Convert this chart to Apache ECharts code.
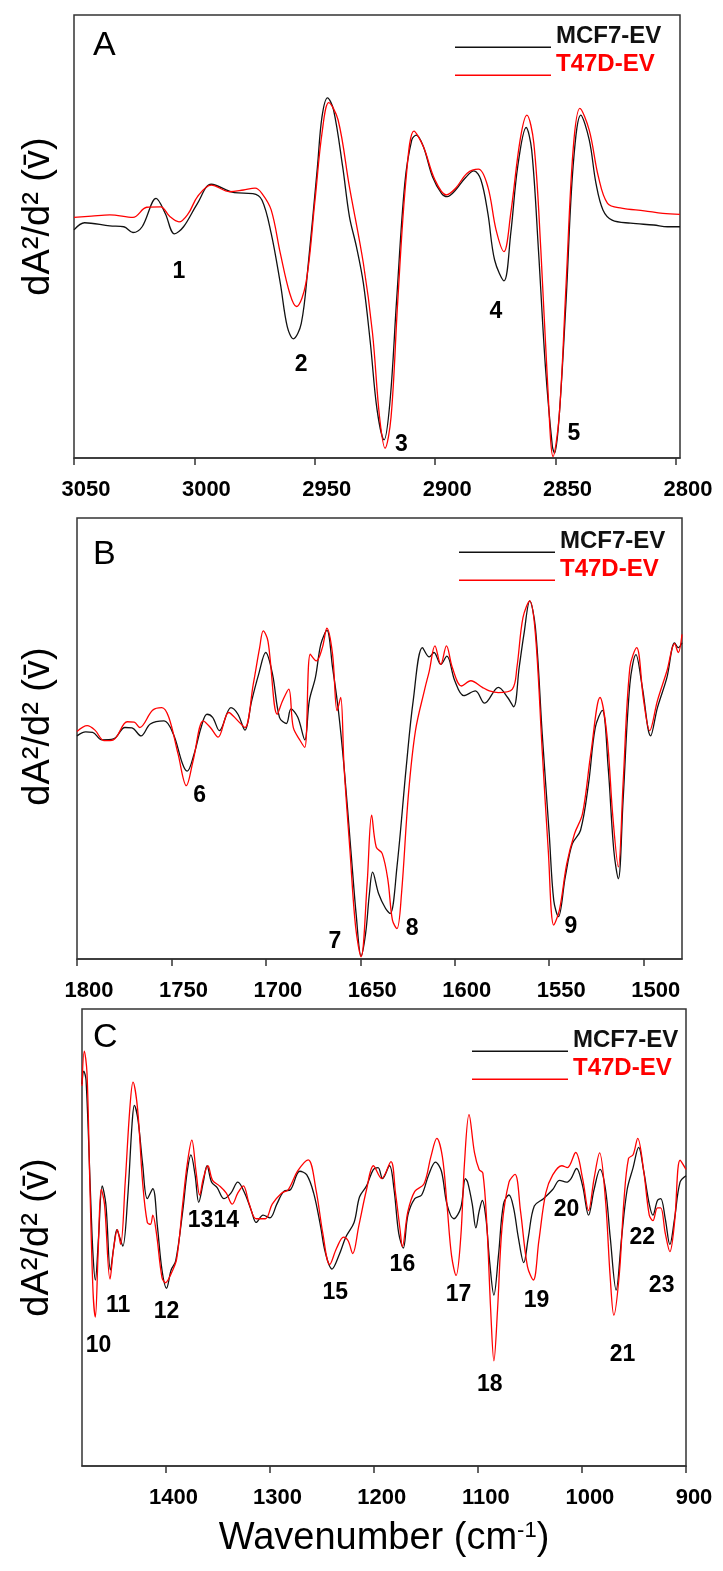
<!DOCTYPE html>
<html>
<head>
<meta charset="utf-8">
<script src="https://cdn.jsdelivr.net/npm/echarts@6/dist/echarts.min.js"></script>
<style>
html,body{margin:0;padding:0;background:#fff;}
#chart{width:723px;height:1571px;}
</style>
</head>
<body>
<div id="chart"></div>
<script>
// ---- Data: [wavenumber (cm-1), second-derivative value (relative units)] ----
const mcf7A = [[3050,51.5],[3045.6,53.1],[3035.1,52.4],[3029.3,52.2],[3025.5,50.9],[3021.7,52.2],[3015.9,58.6],[3012.1,55.2],[3008.3,50.6],[3004.5,52.2],[2998.7,57.5],[2993.0,61.8],[2983.4,59.9],[2975.7,59.7],[2971.9,58.2],[2968.1,50.7],[2964.3,39.4],[2961.4,29.6],[2958.9,26.9],[2955.6,30.4],[2952.8,43.2],[2948.9,65.7],[2947.0,77.0],[2944.7,81.3],[2942.2,78.6],[2938.4,65.7],[2935.6,54.5],[2932.7,47.7],[2929.8,39.4],[2926.9,25.9],[2924.1,10.8],[2921.2,4.1],[2918.7,13.1],[2916.0,35.7],[2912.6,62.0],[2909.7,71.8],[2907.8,72.9],[2904.9,70.3],[2901.1,63.5],[2897.3,59.7],[2895.0,59.0],[2891.5,60.5],[2887.7,63.1],[2883.9,64.8],[2881.0,62.8],[2878.1,55.2],[2875.3,44.7],[2871.4,40.0],[2868.6,50.7],[2865.7,65.8],[2862.2,74.6],[2859.9,69.5],[2857.1,47.0],[2854.2,20.6],[2851.3,2.6],[2850.4,1.1],[2848.5,9.3],[2845.6,35.7],[2842.7,65.8],[2839.5,77.4],[2836.0,71.8],[2833.2,62.0],[2830.3,56.0],[2826.5,53.7],[2818.8,53.0],[2809.2,52.6],[2803.5,52.2],[2798.3,52.2]];
const t47dA = [[3050,54.3],[3042.7,54.6],[3035.1,54.9],[3025.5,54.3],[3019.8,56.6],[3014.0,56.7],[3010.2,54.5],[3006.4,53.3],[3002.5,55.2],[2998.7,59.0],[2993.0,61.6],[2985.3,60.1],[2979.6,60.5],[2974.8,60.9],[2971.9,59.7],[2968.1,56.0],[2964.3,46.2],[2960.4,37.2],[2957.6,34.2],[2953.7,39.4],[2949.9,58.2],[2947.0,73.3],[2944.2,80.2],[2940.3,76.3],[2935.6,61.2],[2929.8,43.9],[2926.0,28.1],[2923.1,9.3],[2920.8,2.2],[2918.3,9.3],[2915.5,35.7],[2912.0,63.5],[2908.8,73.8],[2904.9,70.3],[2900.1,62.8],[2895.4,59.4],[2891.5,60.9],[2886.7,64.3],[2882.0,65.2],[2878.1,61.2],[2874.7,51.5],[2871.4,46.6],[2868.6,55.2],[2864.7,71.8],[2861.9,77.4],[2859.0,71.0],[2856.1,47.0],[2853.3,16.9],[2851.0,0.3],[2848.5,9.3],[2845.6,39.4],[2842.7,69.5],[2839.9,78.9],[2836.0,74.0],[2832.2,63.5],[2828.4,57.5],[2822.6,56.4],[2813.1,55.8],[2805.4,55.2],[2798.3,55.0]];

const mcf7B = [[1800,50.6],[1795.4,51.5],[1791.7,51.4],[1786.8,49.7],[1780.7,49.9],[1774.6,52.5],[1770.9,52.4],[1766.1,50.6],[1761.2,53.3],[1753.9,54.0],[1749.0,51.0],[1744.1,44.2],[1741.7,42.6],[1738.0,46.5],[1734.3,52.5],[1731.2,55.5],[1728.2,54.8],[1724.6,51.8],[1718.5,57.0],[1714.8,55.5],[1711.1,51.9],[1707.5,58.6],[1703.8,64.6],[1700.1,69.5],[1696.5,64.6],[1692.8,54.8],[1689.2,53.4],[1686.7,56.7],[1683.1,54.8],[1679.4,49.7],[1677.0,58.6],[1673.8,63.8],[1670.9,71.4],[1667.7,74.5],[1664.7,66.1],[1661.6,56.3],[1658.6,43.5],[1655.0,24.6],[1652.1,9.6],[1649.6,0.7],[1647.2,5.8],[1645.2,14.8],[1643.5,19.7],[1640.3,14.8],[1636.7,11.5],[1634.2,10.3],[1630.6,20.9],[1625.7,43.5],[1622.0,58.6],[1617.1,70.6],[1613.5,68.5],[1611.0,69.5],[1607.4,66.8],[1604.2,68.7],[1600.0,63.1],[1595.2,59.7],[1589.1,60.8],[1584.2,58.0],[1576.9,61.6],[1572.0,59.3],[1568.8,57.2],[1565.9,66.1],[1563.4,73.6],[1560.3,81.2],[1557.3,75.1],[1553.7,51.0],[1550.0,28.4],[1547.6,13.3],[1545.1,9.6],[1541.5,18.6],[1537.8,26.1],[1533.4,29.2],[1529.2,39.7],[1525.6,52.5],[1521.9,56.4],[1518.8,43.5],[1515.8,24.6],[1513.4,18.2],[1510.9,35.9],[1507.3,62.3],[1504.1,69.0],[1500.7,61.6],[1496.3,50.6],[1492.7,57.0],[1487.7,63.8],[1483.6,71.7],[1481.7,70.6],[1479.7,71.7]];
const t47dB = [[1800,51.6],[1794.6,52.9],[1790.5,51.9],[1785.6,49.5],[1780.7,49.7],[1773.4,53.8],[1769.7,53.7],[1766.8,52.5],[1760.0,56.4],[1755.1,57.0],[1751.4,54.8],[1746.5,46.5],[1742.1,39.3],[1738.5,45.0],[1733.1,54.0],[1729.4,52.5],[1725.3,50.3],[1719.7,55.9],[1714.8,54.0],[1711.1,52.5],[1706.7,62.3],[1703.3,70.6],[1701.4,74.4],[1698.9,72.1],[1694.0,55.5],[1691.1,58.6],[1687.9,61.2],[1685.5,52.5],[1681.8,49.5],[1679.4,48.0],[1676.5,69.1],[1673.3,67.6],[1670.1,70.6],[1667.7,75.0],[1664.7,69.1],[1662.3,56.3],[1660.4,59.3],[1658.6,43.5],[1655.5,24.6],[1652.5,7.3],[1649.6,0.5],[1646.4,17.1],[1644.0,32.6],[1641.6,25.4],[1638.4,23.9],[1635.4,17.9],[1633.0,8.8],[1630.6,6.9],[1628.2,14.8],[1624.5,37.5],[1620.8,51.8],[1615.9,61.2],[1613.5,65.3],[1610.5,71.0],[1607.4,66.8],[1604.4,71.0],[1601.3,66.1],[1596.4,61.9],[1591.5,63.1],[1585.4,61.6],[1581.7,60.8],[1576.9,60.4],[1569.5,61.2],[1567.1,66.1],[1563.9,77.4],[1560.3,81.2],[1557.3,73.6],[1553.7,47.2],[1550.5,24.6],[1547.6,7.7],[1544.6,11.1],[1540.7,21.6],[1536.6,28.4],[1532.4,32.9],[1528.0,46.5],[1523.1,59.3],[1519.5,51.0],[1516.3,32.2],[1513.4,20.9],[1510.9,39.7],[1507.3,66.1],[1503.7,70.6],[1500.0,58.6],[1496.8,51.8],[1492.7,58.6],[1487.7,65.3],[1483.6,71.5],[1481.7,69.5],[1479.7,73.6]];

const mcf7C = [[1480.1,83.6],[1478.4,86.4],[1476.2,84.4],[1471.7,58.1],[1469.5,46.1],[1467.3,40.7],[1464.2,50.1],[1460.7,61.3],[1457.2,57.3],[1452.8,42.9],[1449.7,47.7],[1446.6,51.7],[1444.0,50.1],[1440.9,48.1],[1436.4,58.1],[1432.0,74.9],[1429.8,78.9],[1426.3,75.7],[1421.9,66.1],[1417.4,58.5],[1412.1,60.7],[1407.7,52.5],[1403.3,42.9],[1398.9,38.9],[1394.5,42.9],[1390.1,44.9],[1383.4,55.7],[1379.0,64.5],[1375.5,68.1],[1371.5,63.7],[1368.0,57.7],[1363.6,62.1],[1360.0,65.7],[1355.6,62.1],[1350.3,60.9],[1343.7,58.5],[1337.1,59.7],[1330.5,62.1],[1323.8,59.7],[1317.2,55.7],[1312.8,53.3],[1306.2,54.9],[1299.6,54.3],[1293.0,57.3],[1286.3,60.1],[1279.7,60.5],[1270.9,64.5],[1264.2,63.7],[1257.6,59.7],[1251.0,52.5],[1246.6,46.9],[1240.0,43.1],[1233.3,46.1],[1226.7,50.1],[1218.8,53.3],[1213.5,58.9],[1206.8,61.3],[1200.2,64.9],[1195.8,65.3],[1191.4,62.9],[1184.8,65.7],[1180.4,60.5],[1175.9,50.9],[1171.5,47.7],[1167.1,54.9],[1160.5,58.5],[1153.9,59.3],[1147.2,63.7],[1140.6,66.5],[1134.9,64.5],[1129.6,57.3],[1123.0,54.1],[1116.3,56.5],[1111.9,62.9],[1109.7,62.1],[1105.3,57.3],[1101.8,52.1],[1098.7,55.7],[1095.6,58.1],[1092.1,54.1],[1088.5,44.5],[1084.5,37.4],[1080.1,46.1],[1075.3,57.3],[1070.0,59.3],[1065.6,56.5],[1061.1,50.1],[1055.8,44.5],[1051.4,50.1],[1045.7,56.9],[1036.9,58.5],[1028.0,60.5],[1021.4,62.5],[1014.8,62.1],[1010.4,62.9],[1005.1,65.1],[999.3,61.3],[993.6,54.9],[988.3,60.5],[982.6,64.9],[977.3,60.5],[972.8,50.1],[967.1,38.5],[961.8,50.1],[956.5,60.5],[950.8,65.3],[945.5,69.7],[940.6,64.5],[935.3,57.3],[931.8,54.9],[927.4,58.1],[924.3,58.5],[919.9,54.1],[915.5,48.5],[911.0,54.1],[905.7,62.1],[900.0,63.5]];
const t47dC = [[1480.1,83.2],[1477.9,90.8],[1475.3,86.0],[1472.6,62.1],[1469.5,38.1],[1467.3,32.6],[1464.7,46.1],[1461.6,60.5],[1458.5,57.3],[1453.2,40.9],[1449.7,47.7],[1446.1,51.7],[1443.0,48.5],[1438.6,62.1],[1434.2,78.1],[1431.1,84.0],[1426.7,78.1],[1421.9,62.1],[1417.4,53.3],[1414.3,52.9],[1412.1,54.9],[1408.6,50.9],[1403.3,41.3],[1399.8,40.1],[1394.5,42.1],[1389.2,45.3],[1383.4,57.3],[1379.0,66.1],[1374.6,71.3],[1370.6,64.5],[1367.1,59.3],[1363.6,62.9],[1359.2,65.7],[1354.7,62.5],[1348.1,61.3],[1341.5,59.7],[1335.8,57.3],[1330.5,59.7],[1325.2,61.3],[1319.4,57.3],[1312.8,54.1],[1304.0,54.1],[1297.4,57.3],[1288.5,59.7],[1281.9,60.5],[1273.1,64.5],[1262.9,67.0],[1255.4,60.5],[1248.8,50.9],[1242.2,44.1],[1235.5,47.7],[1228.9,50.1],[1224.5,49.3],[1220.1,46.5],[1214.3,52.5],[1206.8,60.5],[1200.2,65.7],[1192.3,62.9],[1183.4,66.6],[1179.0,59.7],[1174.6,51.7],[1172.4,48.0],[1167.1,55.7],[1160.5,60.1],[1151.7,61.7],[1145.0,67.7],[1139.3,71.7],[1134.0,67.7],[1129.6,57.3],[1125.2,46.1],[1120.8,41.7],[1116.3,50.1],[1112.8,66.1],[1108.4,76.9],[1103.1,68.5],[1098.7,64.9],[1095.1,64.1],[1091.2,52.5],[1087.6,34.2],[1084.5,23.0],[1081.0,34.2],[1076.6,52.5],[1070.0,62.1],[1064.2,63.8],[1058.9,55.7],[1052.3,43.7],[1046.6,40.7],[1041.3,49.3],[1034.7,59.7],[1028.0,63.7],[1019.2,65.7],[1013.9,65.3],[1006.0,68.6],[999.3,62.9],[993.6,55.9],[988.3,62.9],[983.0,68.5],[977.3,58.1],[972.8,41.3],[969.3,33.0],[964.0,42.1],[959.6,58.1],[955.2,67.3],[950.8,68.1],[946.4,71.7],[940.6,64.5],[935.3,54.9],[931.8,53.7],[927.4,56.5],[924.3,56.5],[919.9,50.9],[915.5,46.9],[911.0,53.3],[905.7,66.9],[900.0,64.9]];

// Band number annotations: [wavenumber, value, text]
const peaksA = [[3006.4,42.1,'1'],[2955.7,21.0,'2'],[2914.0,2.9,'3'],[2874.8,33.0,'4'],[2842.4,5.6,'5']];
const peaksB = [[1735.1,37.1,'6'],[1663.5,3.9,'7'],[1622.6,6.9,'8'],[1538.5,7.3,'9']];
const peaksC = [[1464.2,26.3,'10'],[1445.3,35.1,'11'],[1398.9,33.8,'12'],[1353.9,53.6,'1314'],[1236.9,38.0,'15'],[1172.4,44.1,'16'],[1118.5,37.4,'17'],[1088.5,17.8,'18'],[1043.5,36.2,'19'],[1014.8,56.1,'20'],[960.9,24.4,'21'],[941.9,50.0,'22'],[923.4,39.5,'23']];

// Tick labels
const ticksA = [3050,3000,2950,2900,2850,2800];
const ticksB = [1800,1750,1700,1650,1600,1550,1500];
const ticksC = [1400,1300,1200,1100,1000,900];
const rangesX = [[2798.3,3050],[1479.7,1800],[900,1480.1]];
const panelLetters = ['A','B','C'];
const seriesNames = ['MCF7-EV','T47D-EV'];
const seriesColors = ['#111111','#ff0000'];

const FONT = 'Liberation Sans, Arial, Helvetica, sans-serif';
const grids = [
  {left:74, top:15, width:606, height:443},
  {left:77, top:518, width:605, height:441},
  {left:82, top:1009, width:604, height:457}
];
const legendPos = [{left:455, top:24},{left:459, top:529},{left:472, top:1028}];
const letterPos = [{left:93, top:29},{left:93, top:538},{left:93, top:1021}];
const labelShift = [24, 24, 16];
const yNameGap = [16, 19, 25];
const yNameShift = [40, 24, 0];
const ticks = [ticksA, ticksB, ticksC];
const lines = [[mcf7A,t47dA],[mcf7B,t47dB],[mcf7C,t47dC]];
const peaks = [peaksA, peaksB, peaksC];

const option = {
  animation: false,
  backgroundColor: '#ffffff',
  textStyle: {fontFamily: FONT},
  title: panelLetters.map((t,i)=>({
    text: t, left: letterPos[i].left, top: letterPos[i].top, padding: 0,
    textStyle: {fontFamily: FONT, fontSize: 34, fontWeight: 'normal', color: '#000'}
  })),
  legend: legendPos.map((p)=>({
    orient: 'vertical', left: p.left, top: p.top, padding: 0,
    itemWidth: 96, itemHeight: 24, itemGap: 4,
    icon: 'path://M0,0 L0,0 M0,22.5 L96,22.5 L96,24 L0,24 Z',
    selectedMode: false,
    textStyle: {fontFamily: FONT, fontSize: 24, fontWeight: 'bold'},
    data: seriesNames.map((n,k)=>({name: n, textStyle: {color: seriesColors[k]}}))
  })),
  grid: grids.map(g=>Object.assign({show:true, borderColor:'#333', borderWidth:1.5, backgroundColor:'rgba(0,0,0,0)'}, g)),
  xAxis: grids.map((g,i)=>({
    type: 'value', gridIndex: i, inverse: true,
    min: rangesX[i][0], max: rangesX[i][1],
    name: i===2 ? 'Wavenumber (cm{sup|-1})' : '',
    nameLocation: 'middle', nameGap: 54,
    nameTextStyle: {fontFamily: FONT, fontSize: 38, color:'#000',
      rich: {sup: {fontFamily: FONT, fontSize: 22, verticalAlign: 'top', color:'#000', padding:[0,0,14,0]}}},
    axisLine: {show: true, onZero: false, lineStyle: {color:'#333', width:1.5}},
    axisTick: {show: true, inside: false, length: 7, customValues: ticks[i], lineStyle: {color:'#333', width:1.5}},
    axisLabel: {show: true, customValues: ticks[i], margin: 21, fontFamily: FONT, fontSize: 22, fontWeight: 'bold', color:'#000',
      padding: [0,0,0,labelShift[i]], formatter: v => String(Math.round(v))},
    splitLine: {show: false}
  })),
  yAxis: grids.map((g,i)=>({
    type: 'value', gridIndex: i, min: 0, max: 100,
    name: 'dA²/d² (v\u0304)', nameLocation: 'middle', nameRotate: 90, nameGap: yNameGap[i],
    nameTextStyle: {fontFamily: FONT, fontSize: 38, color:'#000', padding: [0,0,0,yNameShift[i]]},
    axisLine: {show: false}, axisTick: {show: false}, axisLabel: {show: false}, splitLine: {show: false}
  })),
  series: []
};

lines.forEach((pair,i)=>{
  pair.forEach((d,k)=>{
    option.series.push({
      type: 'line', name: seriesNames[k], xAxisIndex: i, yAxisIndex: i,
      data: d, showSymbol: false, smooth: 0.35, color: seriesColors[k],
      lineStyle: {color: seriesColors[k], width: 1.3}, silent: true, z: 2 + k
    });
  });
});
peaks.forEach((pk,i)=>{
  option.series.push({
    type: 'scatter', name: 'bands' + i, xAxisIndex: i, yAxisIndex: i,
    data: pk, symbolSize: 1, itemStyle: {color: '#000', opacity: 0}, silent: true, clip: false, z: 5,
    label: {show: true, position: 'inside', formatter: p => p.data[2], opacity: 1,
      fontFamily: FONT, fontSize: 23, fontWeight: 'bold', color: '#000', textBorderWidth: 0}
  });
});

const chart = echarts.init(document.getElementById('chart'), null, {renderer: 'canvas'});
chart.setOption(option);
</script>
</body>
</html>
